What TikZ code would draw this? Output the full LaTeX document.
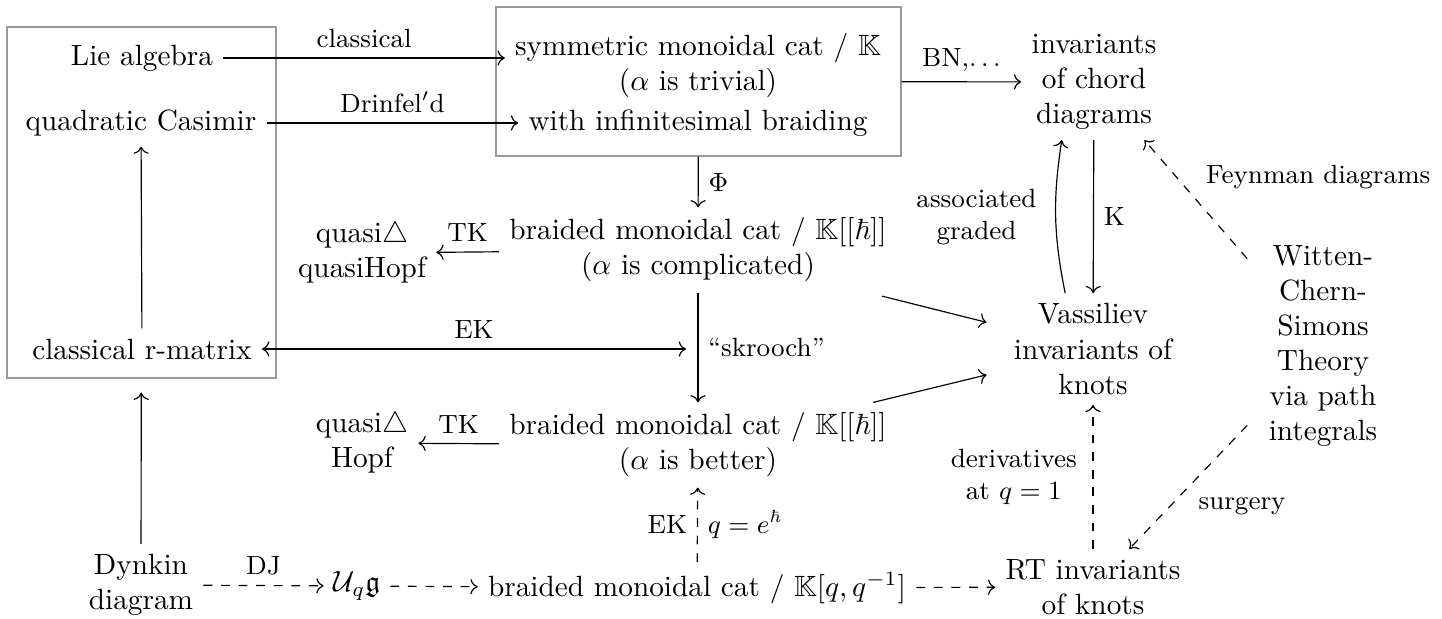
\documentclass[tikz,border=0pt]{standalone}
\usepackage{amssymb}
\usepackage{amsmath}
\usepackage{tikz}
\usetikzlibrary{arrows.meta,fit}
\definecolor{frameGray}{HTML}{9A9A9A}

\begin{document}
\begin{tikzpicture}[x=0.3413pt,y=-0.3413pt,
    cell/.style={align=center},
    frame/.style={draw=frameGray,inner sep=0pt},
    lbl/.style={font=\small,align=center},
    arrow/.style={->},
    dasharrow/.style={->,dashed}]
  \useasboundingbox (0,0) rectangle (1442,619);
  % left column
  \node[cell] (lie) at (142,58) {Lie algebra};
  \node[cell] (cas) at (141,123) {quadratic Casimir};
  \node[cell] (rmat) at (142,349) {classical r-matrix};
  \node[cell] (dyn) at (141,585) {Dynkin\\diagram};
  \node[frame,fit={(7,27) (276,378)}] (lbox) {};
  % middle column
  \node[cell] (sym) at (698,66) {symmetric monoidal cat / $\mathbb{K}$\\($\alpha$ is trivial)};
  \node[cell] (winf) at (698,123) {with infinitesimal braiding};
  \node[frame,fit={(496,7) (901,156)}] (topbox) {};
  \node[cell] (br1) at (698,250) {braided monoidal cat / $\mathbb{K}[[\hbar]]$\\($\alpha$ is complicated)};
  \node[cell] (br2) at (698,445) {braided monoidal cat / $\mathbb{K}[[\hbar]]$\\($\alpha$ is better)};
  \node[cell] (br3) at (697,588) {braided monoidal cat / $\mathbb{K}[q,q^{-1}]$};
  \node[cell] (qh1) at (362,253) {quasi$\triangle$\\quasiHopf};
  \node[cell] (qh2) at (362,443) {quasi$\triangle$\\Hopf};
  \node[cell] (uqg) at (357,586) {$\mathcal{U}_q\mathfrak{g}$};
  \coordinate (ekend) at (686,349);
  % right column
  \node[cell] (chord) at (1094,82) {invariants\\of chord\\diagrams};
  \node[cell,outer xsep=6pt] (vass) at (1093,349) {Vassiliev\\invariants of\\knots};
  \node[cell] (rt) at (1093,587) {RT invariants\\of knots};
  \node[cell,outer sep=4pt] (wcs) at (1323,346) {Witten-\\Chern-\\Simons\\Theory\\via path\\integrals};

  \draw[arrow] (lie) -- (lie -| sym.west) node[midway,above,lbl] {classical};
  \draw[arrow] (cas) -- (cas -| winf.west) node[midway,above,lbl] {Drinfel$'$d};
  \draw[arrow] (rmat) -- (cas);
  \draw[arrow,shorten >=4.8pt] (dyn) -- (lbox);
  \draw[{<[]}-{>[]}] (rmat) -- (ekend) node[midway,above,lbl] {EK};
  \draw[arrow] (topbox) -- (chord) node[midway,above,lbl] {BN,$\ldots$};
  \draw[arrow] (topbox) -- (br1) node[midway,right,lbl] {$\Phi$};
  \draw[arrow] (br1) -- (qh1) node[midway,above,lbl] {TK};
  \draw[arrow] (br1) -- (br2) node[midway,right,lbl] {``skrooch''};
  \draw[arrow] (br2) -- (qh2) node[midway,above,lbl] {TK};
  \draw[dasharrow] (br3) -- (br2) node[midway,left,lbl] {EK} node[midway,right,lbl] {$q=e^{\hbar}$};
  \draw[dasharrow] (dyn) -- (uqg) node[midway,above,lbl] {DJ};
  \draw[dasharrow] (uqg) -- (br3);
  \draw[dasharrow] (br3) -- (rt);
  \draw[arrow,shorten <=5pt] (br1) -- (vass);
  \draw[arrow] (br2) -- (vass);
  \draw[arrow] (chord) -- (vass) node[midway,right,lbl] {K};
  \draw[arrow] ([xshift=-9.5pt]vass.north) to[bend left=10] node[midway,left=3pt,lbl] {associated\\graded} ([xshift=-11pt]chord.south);
  \draw[dasharrow] (rt) -- (vass) node[midway,left=2pt,lbl] {derivatives\\at $q=1$};
  \draw[dasharrow] (wcs) -- (chord) node[midway,above right,lbl] {Feynman diagrams};
  \draw[dasharrow] (wcs) -- (rt) node[midway,below right,lbl] {surgery};
\end{tikzpicture}
\end{document}
